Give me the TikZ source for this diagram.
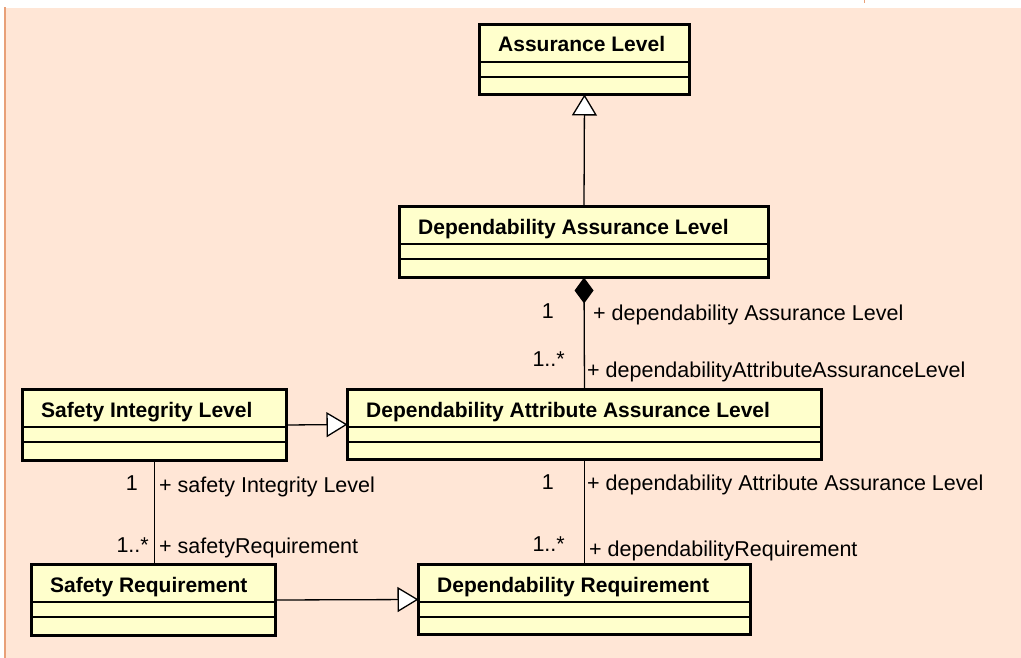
\documentclass[tikz,border=0pt]{standalone}
\usepackage{fontspec}
\setmainfont{Liberation Sans}
\usetikzlibrary{arrows.meta}
\definecolor{bgpeach}{RGB}{255,230,214}
\definecolor{boxyellow}{RGB}{255,255,204}
\definecolor{edgeorange}{RGB}{232,160,120}
\tikzset{
  classbox/.style={draw=black, line width=3pt, fill=boxyellow, inner sep=0pt, outer sep=0pt, anchor=north west},
  divider/.style={draw=black, line width=1.3pt},
  titletext/.style={font=\fontsize{21}{25}\selectfont\bfseries, inner sep=0pt, anchor=base west},
  roletext/.style={font=\fontsize{21.5}{25}\selectfont, inner sep=0pt, anchor=base west},
  multtext/.style={font=\fontsize{21.5}{25}\selectfont, inner sep=0pt, anchor=base east},
  connector/.style={draw=black, line width=1.3pt},
  gen/.style={connector, -{Triangle[open, length=21pt, width=25pt, fill=white]}},
  comp/.style={connector, -{Diamond[length=26pt, width=19pt]}},
}
\newcommand{\umlclass}[6]{%
  \node[classbox, minimum width=#4pt, minimum height=#5pt] (#1) at (#2,#3) {};
  \draw[divider] ([yshift=-37.5pt]#1.north west) -- ([yshift=-37.5pt]#1.north east);
  \draw[divider] ([yshift=-52.5pt]#1.north west) -- ([yshift=-52.5pt]#1.north east);
  \node[titletext] (#1title) at ([xshift=18.5pt,yshift=-27.5pt]#1.north west) {#6};
}
\begin{document}
\begin{tikzpicture}[x=1pt,y=-1pt]
\useasboundingbox (0,0) rectangle (1021,658);
% background
\fill[white] (0,0) rectangle (1021,658);
\fill[bgpeach] (6,8) rectangle (1021,658);
\fill[edgeorange] (4,7) rectangle (6,658);
\fill[edgeorange] (864,0) rectangle (865,3);

% classes
\umlclass{AL}{479.5}{24.5}{210}{70}{Assurance Level}
\umlclass{DAL}{399.5}{206.5}{369}{71}{Dependability Assurance Level}
\umlclass{DAAL}{347.5}{389.5}{474}{70}{Dependability Attribute Assurance Level}
\umlclass{SIL}{22.5}{389.5}{264}{71}{Safety Integrity Level}
\umlclass{SR}{31.5}{564.5}{244}{71}{Safety Requirement}
\umlclass{DR}{418.5}{564.5}{332}{70}{Dependability Requirement}

% connectors
\draw[gen] (DAL.north) -- (AL.south);
\draw[comp] (DAAL.north) -- (DAL.south);
\draw[gen] (SIL.east) -- (DAAL.west);
\draw[connector] (SIL.south) -- (SIL.south |- SR.north);
\draw[connector] (DAAL.south) -- (DR.north);
\draw[gen] (SR.east) -- (DR.west);

% labels
\node[multtext] (m1) at (554,318) {1};
\node[roletext] (r1) at (593,320) {+ dependability Assurance Level};
\node[multtext] (m2) at (565,366) {1..*};
\node[roletext] (r2) at (587,377) {+ dependabilityAttributeAssuranceLevel};
\node[multtext] (m3) at (138,490) {1};
\node[roletext] (r3) at (159,492) {+ safety Integrity Level};
\node[multtext] (m4) at (149,552) {1..*};
\node[roletext] (r4) at (159,553) {+ safetyRequirement};
\node[multtext] (m5) at (554,489) {1};
\node[roletext] (r5) at (587,490) {+ dependability Attribute Assurance Level};
\node[multtext] (m6) at (565,551) {1..*};
\node[roletext] (r6) at (589,556) {+ dependabilityRequirement};
\end{tikzpicture}
\end{document}
